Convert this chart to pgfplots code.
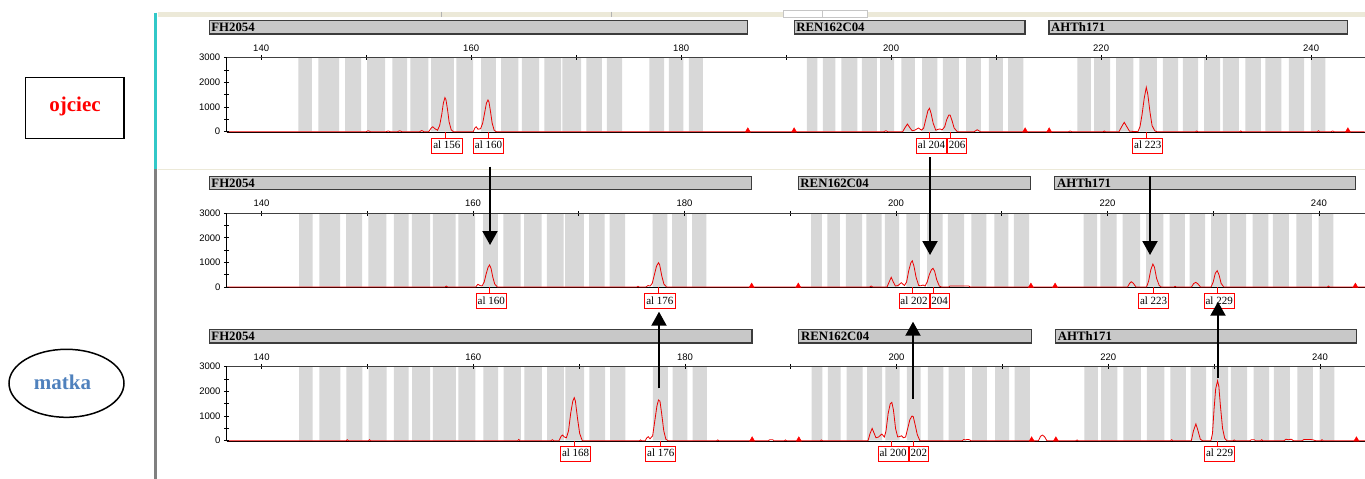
\documentclass[border=0pt]{standalone}
\usepackage{fontspec}
\setmainfont{Liberation Serif}
\newfontfamily\arialfont{Liberation Sans}
\usepackage{pgfplots}
\pgfplotsset{compat=1.18}
\usepackage{pgfplotstable}
\usetikzlibrary{arrows.meta}
\definecolor{bin}{RGB}{216,216,216}
\definecolor{hdrfill}{RGB}{200,200,200}
\definecolor{hdrdraw}{RGB}{60,60,60}
\definecolor{trace}{RGB}{235,0,0}
\definecolor{strip}{RGB}{236,233,216}
\definecolor{cyanline}{RGB}{50,200,200}
\definecolor{greyline}{RGB}{128,128,128}
\definecolor{matka}{RGB}{79,129,189}

\pgfplotstableread{
x y
143.55 3000
144.83 0
145.46 3000
147.43 0
148.00 3000
149.52 0
150.10 3000
151.81 0
152.50 3000
153.90 0
154.22 3000
155.93 0
156.19 3000
158.35 0
158.60 3000
160.19 0
160.95 3000
162.35 0
162.86 3000
164.50 0
164.83 3000
166.48 0
166.98 3000
168.57 0
168.70 3000
170.48 0
170.98 3000
172.45 0
172.92 3000
174.38 0
176.98 3000
178.38 0
178.83 3000
180.22 0
180.73 3000
182.07 0
191.97 3000
192.98 0
193.50 3000
194.70 0
195.27 3000
196.79 0
197.21 3000
198.64 0
198.95 3000
200.29 0
200.98 3000
202.26 0
202.95 3000
204.41 0
204.92 3000
206.45 0
207.14 3000
208.54 0
209.30 3000
210.64 0
211.14 3000
212.60 0
217.74 3000
219.02 0
219.33 3000
220.86 0
221.43 3000
223.08 0
223.65 3000
225.30 0
225.88 3000
227.33 0
227.78 3000
229.24 0
229.81 3000
231.33 0
231.59 3000
233.11 0
233.74 3000
235.21 0
235.65 3000
237.17 0
237.88 3000
239.33 0
239.97 3000
241.36 0
}\bins

\pgfplotsset{
  gel/.style={
    scale only axis, ymin=0, ymax=3000, xmin=136.7,
    axis on top, clip=false,
    axis x line*=top, axis y line*=left,
    x axis line style={-, black!75, line width=0.8pt},
    y axis line style={-, black, line width=1pt},
    tick align=center, major tick length=5.5pt, minor tick length=4.5pt,
    tick style={black, line width=0.8pt},
    xtick={140,160,180,200,220,240}, xticklabels={140,160,180,200,220,240},
    minor xtick={150,170,190,210,230},
    ytick={0,1000,2000,3000}, yticklabels={0,1000,2000,3000},
    minor ytick={500,1500,2500},
    ticklabel style={font=\arialfont\fontsize{9.5}{10}\selectfont},
  },
}
\tikzset{
  lab/.style={draw=red, fill=white, line width=0.8pt, font=\fontsize{11}{11}\selectfont,
    inner xsep=1.5pt, inner ysep=0pt, text height=8pt, text depth=1.5pt, minimum height=15pt},
  hdr/.style={fill=hdrfill, draw=hdrdraw, line width=1.2pt},
  hdrtext/.style={anchor=west, inner sep=0pt, xshift=2pt, font=\bfseries\fontsize{12.8}{13}\selectfont},
}

\newcommand\headers{%
  \draw[hdr] (axis cs:135.05,3960) rectangle (axis cs:186.33,4500);
  \node[hdrtext] at (axis cs:135.05,4230) {FH2054};
  \draw[hdr] (axis cs:190.76,3960) rectangle (axis cs:212.74,4500);
  \node[hdrtext] at (axis cs:190.76,4230) {REN162C04};
  \draw[hdr] (axis cs:215.03,3960) rectangle (axis cs:243.49,4500);
  \node[hdrtext] at (axis cs:215.03,4230) {AHTh171};
}

\begin{document}
\begin{tikzpicture}
\fill[white] (0pt,0pt) rectangle (1365pt,-479pt);

% ---------------- top row (ojciec) ----------------
\begin{axis}[gel, at={(226.5pt,-131.7pt)}, anchor=south west,
  width=1138.5pt, height=74pt, xmax=245.13]
\addplot[const plot, fill=bin, draw=none] table {\bins} \closedcycle;
\addplot[black, line width=1.5pt] coordinates {(136.7,-30) (245.1,-30)};
\addplot[trace, line width=0.8pt] coordinates {
(136.7,0) (150.0,0) (150.2,40) (150.4,0) (151.9,0) (152.1,30) (152.3,0) (153.0,0) (153.2,40) (153.4,0)
(155.1,0) (155.3,50) (155.5,0) (155.95,0) (156.2,150) (156.35,200) (156.55,120) (156.8,60)
(157.0,250) (157.2,700) (157.35,1150) (157.5,1380) (157.6,1300) (157.75,900) (157.9,400) (158.1,80) (158.3,0)
(160.2,0) (160.35,150) (160.48,200) (160.65,100) (160.9,120) (161.1,350) (161.3,800) (161.45,1150) (161.6,1285)
(161.7,1200) (161.85,800) (162.0,350) (162.2,50) (162.4,0)
(199.3,0) (199.5,40) (199.7,0) (201.1,0) (201.3,150) (201.55,310) (201.8,150) (202.0,40) (202.25,60) (202.6,150)
(202.9,60) (203.1,150) (203.3,500) (203.5,850) (203.65,950) (203.8,750) (204.0,350) (204.25,60) (204.5,100)
(204.67,110) (204.85,70) (205.1,200) (205.3,500) (205.5,677) (205.62,670) (205.8,450) (206.0,150) (206.3,0)
(207.9,0) (208.2,80) (208.5,0) (216.9,0) (217.05,30) (217.2,0) (220.2,0) (220.3,30) (220.4,0)
(221.7,0) (221.95,200) (222.2,380) (222.45,200) (222.7,20) (223.5,0) (223.7,200) (223.9,700) (224.1,1350)
(224.3,1800) (224.45,1500) (224.65,800) (224.85,250) (225.1,40) (225.3,0)
(229.0,0) (229.1,30) (229.2,0) (233.2,0) (233.3,30) (233.4,0) (240.6,0) (240.7,40) (240.8,0)
(241.9,0) (242.05,30) (242.2,0) (245.1,0)};
\addplot[only marks, mark=triangle*, red, mark size=3pt, mark options={yshift=1pt}]
  coordinates {(186.35,0) (190.76,0) (212.76,0) (215.05,0) (243.5,0)};
\headers
\draw[red, line width=0.8pt] (axis cs:157.55,0) -- ++(0pt,-6pt);
\node[lab, anchor=north, yshift=-6pt] at (axis cs:157.69,0) {al 156};
\draw[red, line width=0.8pt] (axis cs:161.65,0) -- ++(0pt,-6pt);
\node[lab, anchor=north, yshift=-6pt] at (axis cs:161.65,0) {al 160};
\draw[red, line width=0.8pt] (axis cs:203.65,0) -- ++(0pt,-6pt);
\draw[red, line width=0.8pt] (axis cs:205.62,0) -- ++(0pt,-6pt);
\node[lab, anchor=north, yshift=-6pt] (p1) at (axis cs:203.84,0) {al 204};
\node[lab, anchor=north west] at (p1.north east) {206};
\draw[red, line width=0.8pt] (axis cs:224.35,0) -- ++(0pt,-6pt);
\node[lab, anchor=north, yshift=-6pt] at (axis cs:224.44,0) {al 223};
\end{axis}

% ---------------- middle row ----------------
\begin{axis}[gel, at={(226.7pt,-287pt)}, anchor=south west,
  width=1138.3pt, height=73.7pt, xmax=244.36]
\addplot[const plot, fill=bin, draw=none] table {\bins} \closedcycle;
\addplot[black, line width=1.5pt] coordinates {(136.7,-30) (244.36,-30)};
\addplot[trace, line width=0.8pt] coordinates {
(136.7,0) (157.35,0) (157.47,40) (157.6,0) (160.25,0) (160.46,110) (160.65,60) (160.85,40) (161.05,200)
(161.25,550) (161.42,800) (161.56,895) (161.7,760) (161.88,380) (162.05,120) (162.3,0)
(175.5,0) (175.6,30) (175.7,0) (176.35,0) (176.55,60) (176.75,40) (176.95,150) (177.15,500) (177.35,850)
(177.54,990) (177.65,900) (177.85,450) (178.05,120) (178.3,0)
(197.5,0) (197.66,40) (197.8,0)
(199.15,0) (199.35,200) (199.55,395) (199.75,200) (199.95,40) (200.2,60) (200.5,175) (200.8,60) (201.0,200)
(201.2,650) (201.4,980) (201.54,1070) (201.7,850) (201.9,400) (202.15,60) (202.35,50) (202.55,80) (202.75,40)
(202.95,200) (203.15,500) (203.35,700) (203.5,760) (203.65,650) (203.85,300) (204.1,40) (204.3,0)
(205.0,0) (205.1,40) (206.9,40) (207.0,0)
(221.9,0) (222.1,150) (222.26,215) (222.45,150) (222.7,0)
(223.7,0) (223.9,250) (224.1,700) (224.3,935) (224.45,800) (224.65,350) (224.9,60) (225.1,0)
(226.3,0) (226.4,30) (226.5,0)
(227.95,0) (228.15,140) (228.36,190) (228.55,130) (228.8,0)
(229.8,0) (230.0,200) (230.2,560) (230.38,665) (230.55,500) (230.75,150) (231.0,0)
(240.8,0) (240.9,40) (241.0,0) (244.36,0)};
\addplot[only marks, mark=triangle*, red, mark size=3pt, mark options={yshift=1pt}]
  coordinates {(186.35,0) (190.76,0) (212.76,0) (215.05,0) (243.45,0)};
\headers
\draw[red, line width=0.8pt] (axis cs:161.56,0) -- ++(0pt,-6pt);
\node[lab, anchor=north, yshift=-6pt] at (axis cs:161.72,0) {al 160};
\draw[red, line width=0.8pt] (axis cs:177.54,0) -- ++(0pt,-6pt);
\node[lab, anchor=north, yshift=-6pt] at (axis cs:177.67,0) {al 176};
\draw[red, line width=0.8pt] (axis cs:201.54,0) -- ++(0pt,-6pt);
\draw[red, line width=0.8pt] (axis cs:203.5,0) -- ++(0pt,-6pt);
\node[lab, anchor=north, yshift=-6pt] (p2) at (axis cs:201.71,0) {al 202};
\node[lab, anchor=north west] at (p2.north east) {204};
\draw[red, line width=0.8pt] (axis cs:224.3,0) -- ++(0pt,-6pt);
\node[lab, anchor=north, yshift=-6pt] at (axis cs:224.37,0) {al 223};
\draw[red, line width=0.8pt] (axis cs:230.38,0) -- ++(0pt,-6pt);
\node[lab, anchor=north, yshift=-6pt] at (axis cs:230.57,0) {al 229};
\end{axis}

% ---------------- bottom row (matka) ----------------
\begin{axis}[gel, at={(226.7pt,-440.7pt)}, anchor=south west,
  width=1138.3pt, height=74pt, xmax=244.26]
\addplot[const plot, fill=bin, draw=none] table {\bins} \closedcycle;
\addplot[black, line width=1.5pt] coordinates {(136.7,-30) (244.26,-30)};
\addplot[trace, line width=0.8pt] coordinates {
(136.7,0) (148.0,0) (148.1,40) (148.2,0) (150.1,0) (150.2,40) (150.3,0) (164.2,0) (164.3,50) (164.4,0)
(167.35,0) (167.46,40) (167.6,0) (168.1,0) (168.3,180) (168.44,230) (168.6,150) (168.8,120) (169.0,400)
(169.2,1100) (169.4,1600) (169.54,1745) (169.65,1600) (169.85,900) (170.05,300) (170.3,0)
(175.7,0) (175.8,30) (175.9,0) (176.25,0) (176.4,120) (176.53,160) (176.7,80) (176.95,200) (177.15,800)
(177.35,1400) (177.5,1650) (177.64,1600) (177.8,1100) (178.0,400) (178.2,60) (178.4,0)
(183.0,0) (183.1,30) (183.2,0) (187.9,0) (188.0,40) (188.3,40) (188.4,0) (189.4,0) (189.5,30) (189.6,0)
(192.8,0) (192.9,30) (193.0,0)
(197.3,0) (197.5,300) (197.69,500) (197.85,330) (198.05,120) (198.3,150) (198.6,270) (198.85,150) (199.0,400)
(199.2,1100) (199.4,1500) (199.55,1555) (199.7,1250) (199.9,500) (200.1,150) (200.3,170) (200.46,200)
(200.65,120) (200.85,150) (201.05,500) (201.25,850) (201.45,1000) (201.57,980) (201.75,650) (201.95,250) (202.2,0)
(206.2,0) (206.35,50) (206.5,30) (206.65,50) (206.9,40) (207.0,0)
(213.4,0) (213.6,180) (213.8,230) (214.0,150) (214.2,0)
(216.95,0) (217.05,30) (217.15,0) (225.9,0) (226.0,40) (226.1,0)
(227.85,0) (228.05,400) (228.28,680) (228.45,450) (228.7,60) (228.9,0)
(229.7,0) (229.85,300) (230.0,1300) (230.15,2100) (230.33,2430) (230.45,2200) (230.6,1400) (230.8,500)
(231.0,100) (231.2,0) (231.8,0) (231.9,30) (232.0,0)
(233.4,0) (233.5,40) (233.8,40) (233.9,0) (234.4,0) (234.5,40) (234.6,0)
(236.6,0) (236.8,60) (237.0,40) (237.3,60) (237.5,0)
(238.3,0) (238.5,50) (239.0,50) (239.3,40) (239.6,0) (240.1,0) (240.2,40) (240.3,0) (244.26,0)};
\addplot[only marks, mark=triangle*, red, mark size=3pt, mark options={yshift=1pt}]
  coordinates {(186.35,0) (190.76,0) (212.76,0) (215.05,0) (243.45,0)};
\headers
\draw[red, line width=0.8pt] (axis cs:169.54,0) -- ++(0pt,-5pt);
\node[lab, anchor=north, yshift=-5pt] at (axis cs:169.67,0) {al 168};
\draw[red, line width=0.8pt] (axis cs:177.64,0) -- ++(0pt,-5pt);
\node[lab, anchor=north, yshift=-5pt] at (axis cs:177.71,0) {al 176};
\draw[red, line width=0.8pt] (axis cs:199.55,0) -- ++(0pt,-5pt);
\draw[red, line width=0.8pt] (axis cs:201.57,0) -- ++(0pt,-5pt);
\node[lab, anchor=north, yshift=-5pt] (p3) at (axis cs:199.67,0) {al 200};
\node[lab, anchor=north west] at (p3.north east) {202};
\draw[red, line width=0.8pt] (axis cs:230.33,0) -- ++(0pt,-5pt);
\node[lab, anchor=north, yshift=-5pt] at (axis cs:230.52,0) {al 229};
\end{axis}

% ---------------- decorations in pixel coordinates ----------------
\begin{scope}[x=1pt, y=-1pt]
  \fill[strip] (158,11.5) rectangle (1365,16.5);
  \draw[gray!60, line width=0.6pt] (441,11.5) -- (441,16.5) (611.7,11.5) -- (611.7,16.5);
  \filldraw[fill=white, draw=gray!45, line width=0.5pt] (783,10.5) rectangle (822.7,17);
  \filldraw[fill=white, draw=gray!45, line width=0.5pt] (822.7,10.5) rectangle (867.7,17);
  \draw[strip, line width=1pt] (158,169.5) -- (1365,169.5);
  \draw[cyanline, line width=2.3pt] (155.5,12.5) -- (155.5,169);
  \draw[greyline, line width=2.3pt] (155.5,169) -- (155.5,479);
  % labels on the left
  \draw[black, line width=1.5pt] (25.7,77.7) rectangle (124,138.7);
  \node[text=red, font=\bfseries\fontsize{21}{21}\selectfont] at (75,106) {ojciec};
  \draw[black, line width=1.5pt] (66.5,383.3) ellipse [x radius=57.5, y radius=34];
  \node[text=matka, font=\bfseries\fontsize{21}{21}\selectfont] at (62.5,382) {matka};
  % arrows
  \begin{scope}[line width=2pt, -{Triangle[width=15pt,length=14pt]}]
    \draw (490,166.5) -- (490,245);
    \draw (930,157) -- (930,255);
    \draw (1150,176) -- (1150,255);
    \draw (659,388.3) -- (659,311.7);
    \draw (913,399) -- (913,321.7);
    \draw (1218,378.3) -- (1218,301.7);
  \end{scope}
\end{scope}

\pgfresetboundingbox
\path (0pt,0pt) rectangle (1365pt,-479pt);
\end{tikzpicture}
\end{document}
